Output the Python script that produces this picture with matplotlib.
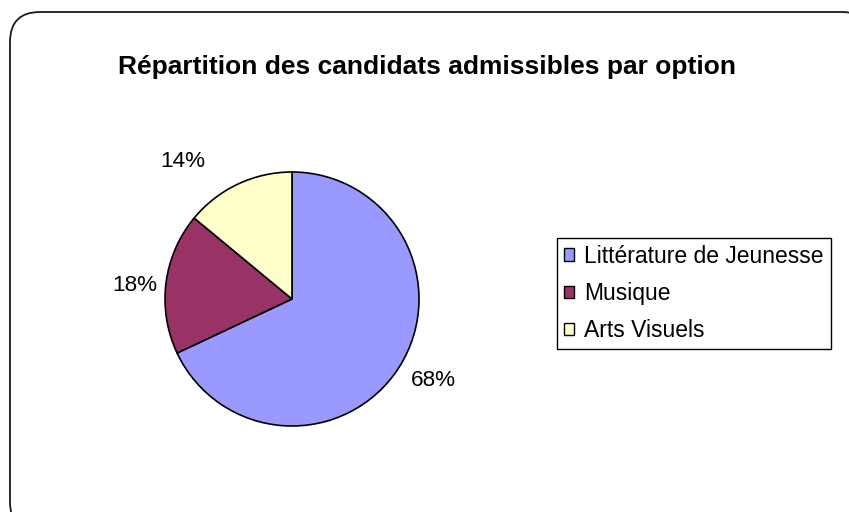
import matplotlib
matplotlib.use("Agg")
import matplotlib.pyplot as plt
import matplotlib.patches as mpatches

# ────── Data ──────

CATEGORIES = ["Littérature de Jeunesse", "Musique", "Arts Visuels"]
SHARES     = [68, 18, 14]
TITLE      = "Répartition des candidats admissibles par option"

# ────── Style ──────

COLORS    = ["#9999FF", "#993366", "#FFFFCC"]
FONT      = "Liberation Sans"
W, H      = 849, 512

# label positions in pie-radius units (Excel places them by hand-ish)
LABEL_POS = [(1.11, -0.64), (-1.24, 0.11), (-0.86, 1.08)]

plt.rcParams["font.family"] = [FONT, "DejaVu Sans"]

fig = plt.figure(figsize=(W / 100, H / 100), dpi=100)
fig.patch.set_facecolor("white")

# ── rounded chart-area frame (runs off the right and bottom edges) ──
ax_bg = fig.add_axes([0, 0, 1, 1])
ax_bg.set_xlim(0, W)
ax_bg.set_ylim(H, 0)
ax_bg.axis("off")
frame = mpatches.FancyBboxPatch(
    (10, 12), 862, 520,
    boxstyle="round,pad=0,rounding_size=30",
    facecolor="white", edgecolor="#1a1a1a", lw=1.3, clip_on=False)
ax_bg.add_patch(frame)

# ── title ──
fig.text(427 / W, 1 - 67 / H, TITLE, ha="center", va="center",
         fontsize=19, fontweight="bold", color="black")

# ── pie ──
cx, cy, r = 292, 299, 127
ax = fig.add_axes([(cx - r) / W, (H - cy - r) / H, 2 * r / W, 2 * r / H])
wedges, _, autotexts = ax.pie(
    SHARES, colors=COLORS, startangle=90, counterclock=False,
    autopct="%1.0f%%", radius=1,
    wedgeprops=dict(edgecolor="black", linewidth=1.2),
    textprops=dict(fontsize=16.2, color="black"))
ax.set_xlim(-1, 1)
ax.set_ylim(-1, 1)
ax.set_aspect("equal")
for t, pos in zip(autotexts, LABEL_POS):
    t.set_position(pos)
    t.set_ha("center")
    t.set_va("center")
    t.set_clip_on(False)

# ── legend ──
handles = [mpatches.Patch(facecolor=c, edgecolor="black", lw=1, label=l)
           for c, l in zip(COLORS, CATEGORIES)]
leg = fig.legend(handles=handles, loc="center left",
                 bbox_to_anchor=(557 / W, 1 - 293.5 / H),
                 fontsize=16.5, frameon=True, fancybox=False,
                 edgecolor="black", framealpha=1,
                 handlelength=0.45, handleheight=0.45, handletextpad=0.45,
                 borderpad=0.3, labelspacing=0.62, borderaxespad=0)
leg.get_frame().set_linewidth(1.0)

fig.savefig("out.png", dpi=100, facecolor="white")
